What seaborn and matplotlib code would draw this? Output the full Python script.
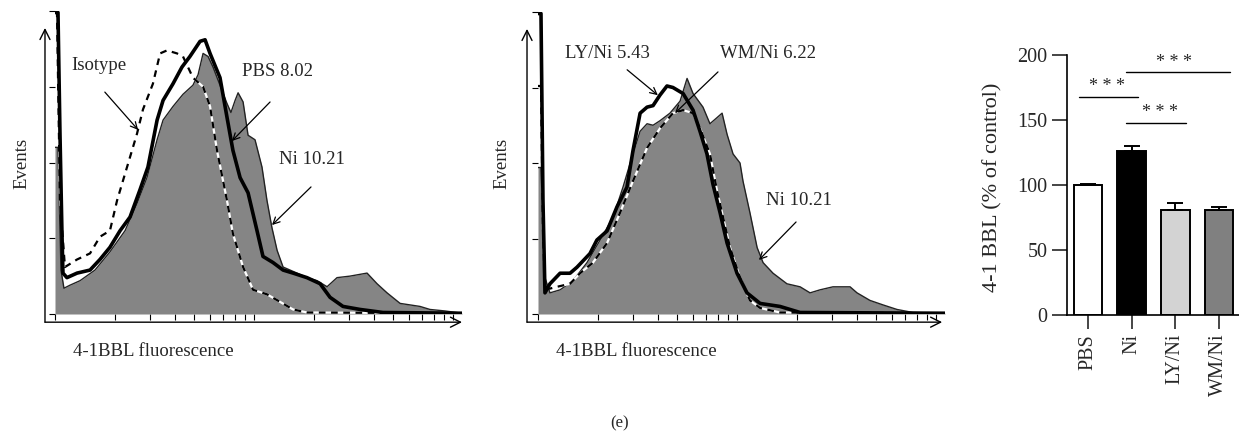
import numpy as np
import pandas as pd
import matplotlib
matplotlib.use("Agg")
import matplotlib.pyplot as plt
import seaborn as sns

# ---- histogram data (x = log10 fluorescence, y = events) ----
# panel 1
iso1_lx = [0.0, 0.010, 0.025, 0.050, 0.111, 0.176, 0.226, 0.276, 0.312, 0.362, 0.412, 0.442,
           0.492, 0.528, 0.563, 0.613, 0.643, 0.693, 0.744, 0.779, 0.814, 0.864, 0.894, 0.945,
           0.995, 1.065, 1.131, 1.196, 1.266, 2.045]
iso1_y = [199, 199, 75, 31, 36, 40, 51, 55, 75, 97, 119, 135,
          152, 172, 174, 172, 170, 156, 150, 137, 108, 75, 53, 31,
          16, 13, 8, 3, 1, 0.5]

pbs1_lx = [0.0, 0.015, 0.025, 0.035, 0.040, 0.060, 0.111, 0.176, 0.226, 0.276, 0.327, 0.377,
           0.427, 0.467, 0.513, 0.543, 0.593, 0.638, 0.678, 0.729, 0.754, 0.779, 0.829, 0.864,
           0.894, 0.930, 0.970, 1.015, 1.045, 1.095, 1.146, 1.196, 1.266, 1.332, 1.382, 1.447,
           1.533, 1.648, 2.045]
pbs1_y = [199, 199, 119, 53, 27, 24, 27, 29, 36, 44, 55, 64,
          82, 97, 128, 141, 152, 163, 170, 180, 181, 172, 156, 130,
          108, 90, 80, 55, 38, 34, 29, 27, 24, 20, 11, 5,
          3, 1, 0.5]

ni1_lx = [0.0, 0.015, 0.030, 0.045, 0.075, 0.126, 0.201, 0.276, 0.352, 0.412, 0.462, 0.513,
          0.543, 0.593, 0.643, 0.693, 0.719, 0.744, 0.769, 0.794, 0.829, 0.864, 0.884, 0.905,
          0.920, 0.945, 0.970, 1.005, 1.040, 1.065, 1.090, 1.116, 1.146, 1.216, 1.266, 1.317,
          1.367, 1.417, 1.482, 1.568, 1.618, 1.668, 1.734, 1.834, 1.884, 1.960, 2.045]
ni1_y = [110, 110, 29, 17, 19, 22, 29, 41, 55, 73, 90, 115,
         128, 137, 145, 151, 158, 172, 170, 163, 151, 139, 133, 141,
         146, 140, 118, 115, 97, 75, 57, 42, 31, 27, 24, 22,
         18, 24, 25, 27, 20, 14, 7, 5, 3, 2, 0.5]

# panel 2
ni2_lx = [0.0, 0.015, 0.035, 0.060, 0.111, 0.176, 0.246, 0.312, 0.377, 0.427, 0.477, 0.513,
          0.548, 0.578, 0.613, 0.663, 0.714, 0.749, 0.779, 0.829, 0.864, 0.899, 0.925, 0.950,
          0.980, 1.015, 1.030, 1.065, 1.101, 1.131, 1.181, 1.251, 1.317, 1.367, 1.417, 1.482,
          1.568, 1.603, 1.668, 1.734, 1.804, 1.884, 2.045]
ni2_y = [97, 97, 24, 14, 16, 22, 34, 49, 64, 84, 106, 121,
         126, 125, 128, 133, 141, 156, 146, 137, 126, 130, 133, 119,
         106, 100, 88, 67, 44, 34, 27, 20, 18, 14, 16, 18,
         18, 14, 9, 6, 3, 1, 0.5]

ly2_lx = [0.0, 0.015, 0.025, 0.035, 0.060, 0.111, 0.161, 0.196, 0.261, 0.296, 0.347, 0.397,
          0.447, 0.477, 0.513, 0.548, 0.578, 0.613, 0.648, 0.678, 0.729, 0.779, 0.814, 0.849,
          0.879, 0.915, 0.950, 1.000, 1.050, 1.116, 1.216, 1.317, 2.045]
ly2_y = [199, 199, 75, 14, 20, 27, 27, 31, 40, 49, 55, 71,
         84, 108, 133, 137, 138, 145, 151, 150, 146, 135, 121, 106,
         86, 67, 47, 27, 14, 7, 5, 1, 0.5]

wm2_lx = [0.0, 0.015, 0.025, 0.035, 0.095, 0.161, 0.211, 0.276, 0.347, 0.412, 0.477, 0.548,
          0.613, 0.678, 0.729, 0.779, 0.814, 0.864, 0.899, 0.930, 0.965, 1.015, 1.065, 1.116,
          1.216, 2.045]
wm2_y = [151, 151, 55, 16, 18, 20, 27, 34, 47, 67, 88, 110,
         123, 133, 135, 133, 123, 106, 82, 64, 44, 24, 9, 4,
         1, 0.5]

# ---- bar chart data ----
groups = ["PBS", "Ni", "LY/Ni", "WM/Ni"]
bbl_pct = [100, 126, 81, 81]
bbl_err = [1, 4, 5, 2]
bar_colors = ["white", "black", "#d3d3d3", "#808080"]

sns.set_style("white")
plt.rcParams["font.family"] = ["Liberation Serif", "DejaVu Serif"]

W, H = 1239, 444
fig = plt.figure(figsize=(W / 100, H / 100), dpi=100)


def px_axes(left, top, right, bottom):
    return fig.add_axes([left / W, 1 - bottom / H, (right - left) / W, (bottom - top) / H])


def fxy(x, y):
    # pixel position -> figure fraction
    return (x / W, 1 - y / H)


def hist_frame(ax):
    ax.set_xscale("log")
    ax.set_xlim(1, 10 ** 2.045)
    ax.set_ylim(0, 200)
    ax.set_yticks([0, 50, 100, 150, 200])
    for s in ax.spines.values():
        s.set_visible(False)
    ax.tick_params(which="both", direction="out", length=4, width=0.8, color="black",
                   labelbottom=False, labelleft=False, bottom=True, left=True)
    ax.set_xlabel("")
    ax.set_ylabel("")
    ax.patch.set_alpha(0)


def axis_arrows(ax, x0, x1):
    kw = dict(xycoords="axes fraction", textcoords="axes fraction", annotation_clip=False,
              arrowprops=dict(arrowstyle="->", lw=1.0, color="black", mutation_scale=18,
                              shrinkA=0, shrinkB=0))
    ax.annotate("", xy=(x0, 0.944), xytext=(x0, -0.027), **kw)
    ax.annotate("", xy=(x1, -0.027), xytext=(x0, -0.027), **kw)


def dash_line(ax, lx, y):
    x = 10 ** np.array(lx)
    sns.lineplot(x=x, y=y, ax=ax, sort=False, estimator=None, color="white", lw=1.6)
    sns.lineplot(x=x, y=y, ax=ax, sort=False, estimator=None, color="black", lw=1.6,
                 linestyle=(0, (3, 2.5)))


def filled(ax, lx, y):
    x = 10 ** np.array(lx)
    ax.fill_between(x, y, 0, color="#858585", lw=0)
    sns.lineplot(x=x, y=y, ax=ax, sort=False, estimator=None, color="#222222", lw=1.0)


def thick(ax, lx, y):
    x = 10 ** np.array(lx)
    sns.lineplot(x=x, y=y, ax=ax, sort=False, estimator=None, color="black", lw=2.6)


def note(text, tx, ty, ax_from, ay_from, ax_to, ay_to):
    fig.text(*fxy(tx, ty), text, ha="center", va="center", fontsize=fs)
    fig.add_artist(matplotlib.patches.FancyArrowPatch(
        fxy(ax_from, ay_from), fxy(ax_to, ay_to), transform=fig.transFigure,
        arrowstyle="->", lw=0.9, color="black", mutation_scale=12))


fs = 13.5

# ---- panel 1 ----
ax1 = px_axes(55, 11, 462, 314)
filled(ax1, ni1_lx, ni1_y)
dash_line(ax1, iso1_lx, iso1_y)
thick(ax1, pbs1_lx, pbs1_y)
hist_frame(ax1)
axis_arrows(ax1, -0.0246, 1.0)
fig.text(*fxy(22, 163), "Events", rotation=90, ha="center", va="center", fontsize=fs)
fig.text(*fxy(153, 351), "4-1BBL fluorescence", ha="center", va="center", fontsize=fs)
note("Isotype", 99, 66, 103, 90, 140, 132)
note("PBS 8.02", 277, 72, 272, 100, 230, 143)
note("Ni 10.21", 312, 160, 313, 185, 270, 227)

# ---- panel 2 ----
ax2 = px_axes(538, 12, 945, 314)
filled(ax2, ni2_lx, ni2_y)
dash_line(ax2, wm2_lx, wm2_y)
thick(ax2, ly2_lx, ly2_y)
hist_frame(ax2)
axis_arrows(ax2, -0.027, 0.993)
fig.text(*fxy(502, 163), "Events", rotation=90, ha="center", va="center", fontsize=fs)
fig.text(*fxy(636, 351), "4-1BBL fluorescence", ha="center", va="center", fontsize=fs)
note("LY/Ni 5.43", 607, 53, 625, 68, 660, 97)
note("WM/Ni 6.22", 768, 53, 720, 70, 673, 115)
note("Ni 10.21", 799, 200, 798, 220, 757, 262)

# ---- panel 3: bar chart ----
ax3 = px_axes(1067, 55, 1239, 315)
df = pd.DataFrame({"group": groups, "pct": bbl_pct})
sns.barplot(data=df, x="group", y="pct", hue="group", palette=bar_colors, order=groups,
            edgecolor="black", linewidth=1.4, width=0.66, legend=False, ax=ax3)
ax3.errorbar(range(len(groups)), bbl_pct, yerr=[np.zeros(len(groups)), bbl_err],
             fmt="none", ecolor="black", elinewidth=1.4, capsize=6, capthick=1.4)
ax3.set_xlim(-0.48, 3.46)
ax3.set_ylim(0, 200)
ax3.set_yticks([0, 50, 100, 150, 200])
ax3.spines["top"].set_visible(False)
ax3.spines["right"].set_visible(False)
for s in ["left", "bottom"]:
    ax3.spines[s].set_color("black")
    ax3.spines[s].set_linewidth(1.2)
ax3.tick_params(axis="y", direction="out", length=11, width=1.2, labelsize=14.5, left=True,
                pad=3)
ax3.tick_params(axis="x", direction="out", length=10, width=1.2, labelsize=14.5, bottom=True,
                labelrotation=90)
ax3.set_xlabel("")
ax3.set_ylabel("")
fig.text(*fxy(993, 187), "4-1 BBL (% of control)", rotation=90, ha="center",
         va="center", fontsize=16)

# significance bars
sig_x0 = [-0.21, 0.87, 0.87]
sig_x1 = [1.14, 2.24, 3.25]
sig_y = [168, 148, 187]
star_x = [0.43, 1.65, 1.97]
for a, b, yv, sx in zip(sig_x0, sig_x1, sig_y, star_x):
    ax3.plot([a, b], [yv, yv], color="black", lw=1.0, clip_on=False)
    ax3.text(sx, yv + 1, "* * *", ha="center", va="bottom", fontsize=13, clip_on=False)

fig.text(*fxy(620, 423), "(e)", ha="center", va="center", fontsize=12)

fig.savefig("out.png", dpi=100)
